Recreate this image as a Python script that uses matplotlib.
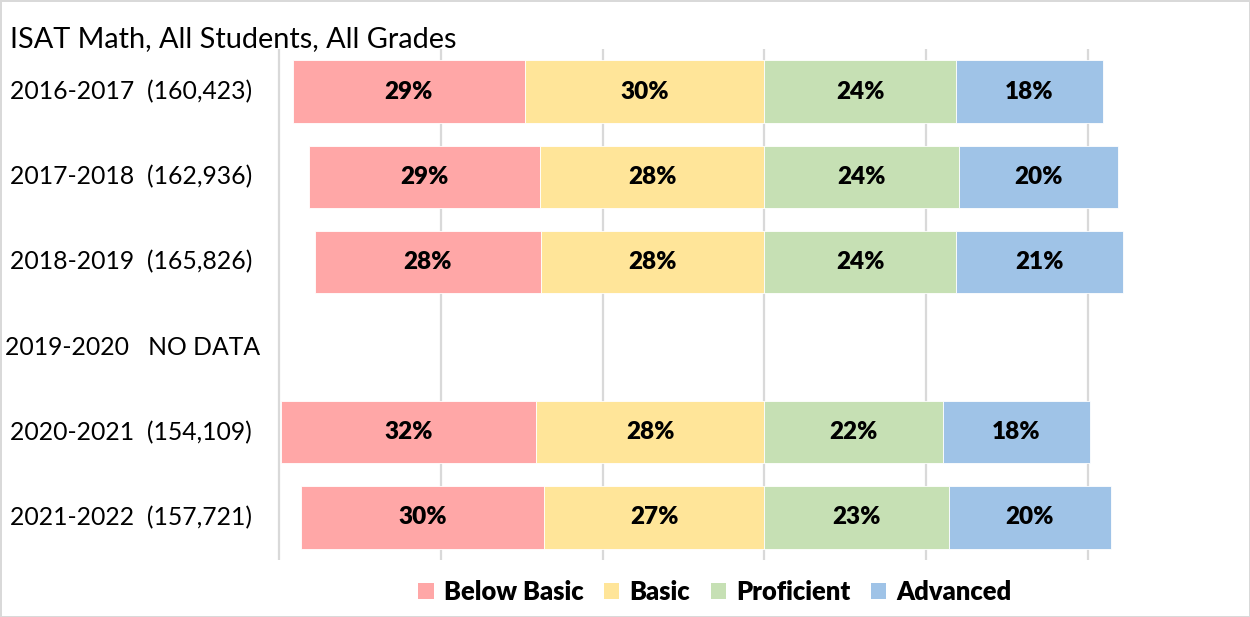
import matplotlib
matplotlib.use("Agg")
import matplotlib.pyplot as plt
from matplotlib.transforms import blended_transform_factory
from matplotlib.patches import Patch

plt.rcParams['font.family'] = ['Lato', 'DejaVu Sans']

# Data (percent of students)
years = ['2016-2017  (160,423)', '2017-2018  (162,936)', '2018-2019  (165,826)',
         '2019-2020   NO DATA', '2020-2021  (154,109)', '2021-2022  (157,721)']
below_basic = [28.7, 28.6, 28.0, None, 31.6, 30.1]
basic = [29.6, 27.7, 27.6, None, 28.2, 27.2]
proficient = [23.7, 24.0, 23.7, None, 22.1, 22.8]
advanced = [18.1, 19.7, 20.6, None, 18.1, 20.0]

colors = {'Below Basic': '#ffa7a7', 'Basic': '#ffe599',
          'Proficient': '#c6e0b4', 'Advanced': '#9fc3e7'}

W, H = 1250, 617
fig = plt.figure(figsize=(W / 100, H / 100), dpi=100)
fig.patch.set_edgecolor('#d9d9d9')
fig.patch.set_linewidth(2)

ppu = (1088 - 279) / 100.0
x0, x1 = -61, 47
left_px = 279 + (x0 + 60) * ppu
right_px = 1088 + (x1 - 40) * ppu
ax = fig.add_axes([left_px / W, 1 - 560 / H, (right_px - left_px) / W, (560 - 49) / H])
ax.set_xlim(x0, x1)
ax.set_ylim(len(years) - 0.5, -0.5)

for s in ax.spines.values():
    s.set_visible(False)
ax.set_xticks(range(-60, 41, 20))
ax.set_xticklabels([])
ax.set_yticks([])
ax.tick_params(length=0)
ax.grid(axis='x', color='#d9d9d9', linewidth=1.6)
ax.set_axisbelow(True)

h = 0.73
for i in range(len(years)):
    if below_basic[i] is None:
        continue
    segs = [(-basic[i] - below_basic[i], below_basic[i], 'Below Basic'),
            (-basic[i], basic[i], 'Basic'),
            (0, proficient[i], 'Proficient'),
            (proficient[i], advanced[i], 'Advanced')]
    for start, w, name in segs:
        ax.barh(i, w, left=start, height=h, color=colors[name],
                edgecolor='white', linewidth=0.6)
        ax.text(start + w / 2, i, f"{w:.0f}%", ha='center', va='center',
                fontsize=17.5, fontweight='heavy', color='black')

trans = blended_transform_factory(fig.transFigure, ax.transData)
for i, lab in enumerate(years):
    xp = 5 if 'NO DATA' in lab else 10
    ax.text(xp / W, i, lab, transform=trans, ha='left', va='center',
            fontsize=17.8, color='black')

fig.text(10 / W, 1 - 47 / H, 'ISAT Math, All Students, All Grades',
         ha='left', va='baseline', fontsize=20.8, color='black')

handles = [Patch(facecolor=colors[k], edgecolor='none') for k in colors]
leg = fig.legend(handles, list(colors.keys()), loc='center',
                 bbox_to_anchor=(715 / W, 1 - 592 / H), ncol=4, frameon=False,
                 prop={'weight': 'heavy', 'size': 18.4}, handlelength=0.6,
                 handleheight=0.6, handletextpad=0.4, columnspacing=0.8)

fig.savefig('out.png', dpi=100)
